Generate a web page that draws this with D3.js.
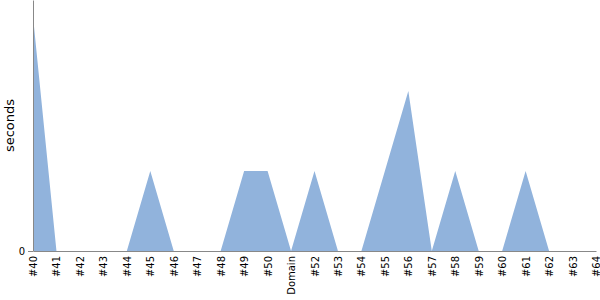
<!DOCTYPE html>
<html>
<head>
<meta charset="utf-8">
<script src="https://cdn.jsdelivr.net/npm/d3@7"></script>
<style>
  body { margin: 0; background: #fff; }
  svg { font-family: "DejaVu Sans", sans-serif; }
  .axis path, .axis line { stroke: #888; }
  .axis text { fill: #000; font-size: 10px; font-family: "DejaVu Sans", sans-serif; }
</style>
</head>
<body>
<div class="chart"></div>
<script>
const width = 600;
const height = 300;
const margin = { top: 0, right: 4, bottom: 49, left: 33 };

// categories and values
const categories = ['#40', '#41', '#42', '#43', '#44', '#45', '#46', '#47', '#48', '#49', '#50', 'Domain',
  '#52', '#53', '#54', '#55', '#56', '#57', '#58', '#59', '#60', '#61', '#62', '#63', '#64'];
const seconds = [2.93, 0, 0, 0, 0, 1, 0, 0, 0, 1, 1, 0, 1, 0, 0, 1, 2, 0, 1, 0, 0, 1, 0, 0, 0];
const yTicks = [0];

const svg = d3.select('.chart').append('svg')
    .attr('width', width)
    .attr('height', height);

const innerW = width - margin.left - margin.right;
const innerH = height - margin.top - margin.bottom;

const chart = svg.append('g')
    .attr('transform', `translate(${margin.left}, ${margin.top})`);

const xScale = d3.scalePoint()
    .domain(categories)
    .range([0, innerW]);

const yScale = d3.scaleLinear()
    .domain([0, 3.1375])
    .range([innerH, 0]);

const data = categories.map((c, i) => ({ cat: c, v: seconds[i] }));

/* area */
const area = d3.area()
    .x(d => xScale(d.cat))
    .y0(innerH)
    .y1(d => yScale(d.v));
chart.append('path')
    .datum(data)
    .attr('fill', '#91b3dc')
    .attr('d', area);

/* y axis */
chart.append('g')
    .attr('class', 'axis')
    .call(d3.axisLeft(yScale).tickValues(yTicks).tickFormat(d3.format('d')).tickSize(5).tickSizeOuter(0))
    .call(g => g.selectAll('text').style('font-size', '10px'));

/* x axis */
const xAxis = chart.append('g')
    .attr('class', 'axis')
    .attr('transform', `translate(0, ${innerH})`)
    .call(d3.axisBottom(xScale).tickSize(0).tickSizeOuter(0));
xAxis.selectAll('text')
    .attr('transform', 'rotate(-90)')
    .attr('text-anchor', 'end')
    .attr('x', -5)
    .attr('y', 0)
    .attr('dy', '0.35em');

/* y label */
svg.append('text')
    .attr('transform', `translate(14, ${innerH / 2}) rotate(-90)`)
    .attr('text-anchor', 'middle')
    .style('font-size', '13px')
    .text('seconds');
</script>
</body>
</html>
